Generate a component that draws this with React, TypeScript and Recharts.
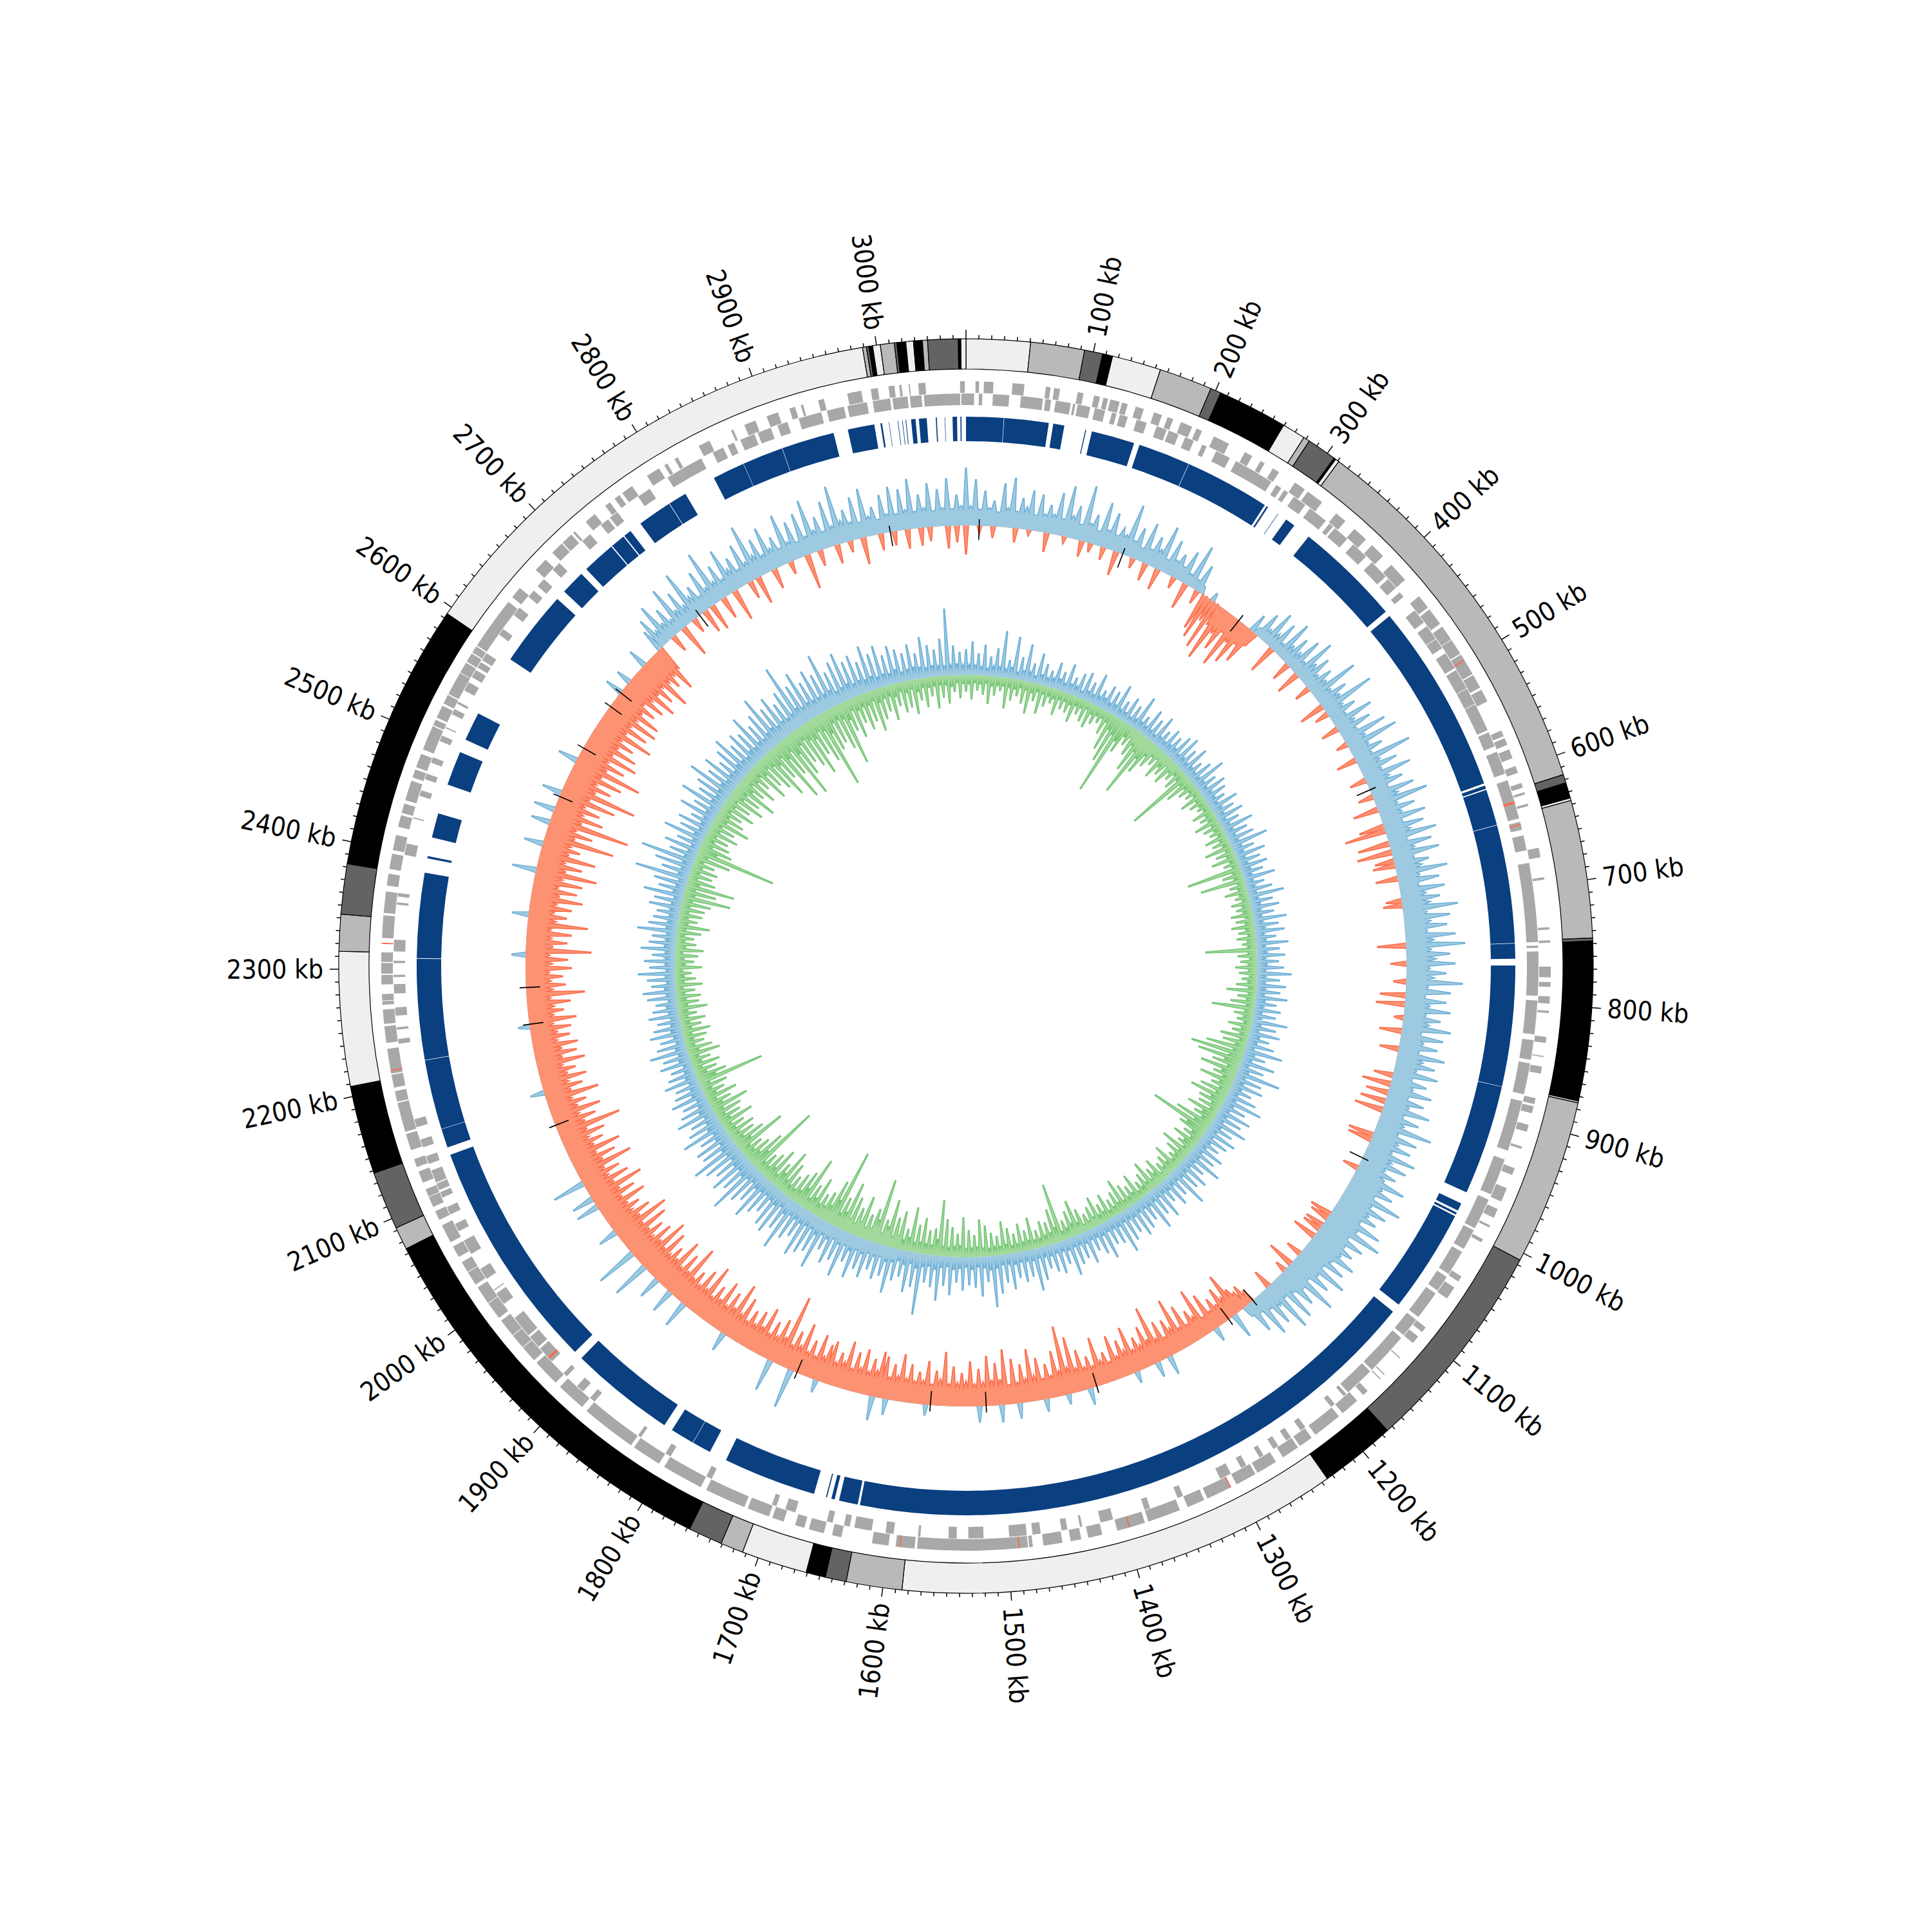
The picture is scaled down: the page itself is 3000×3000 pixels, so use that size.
import { Pie, PieChart, PolarAngleAxis, PolarRadiusAxis, Radar, RadarChart } from "recharts";

const SIZE = 3000;
const CENTER = 1500;
const GENOME_KB = 3070;
const BIN_KB = 5;
const BAND_KB = 50;

// contig ring: end position (kb) and shade of each contig
const contigEnds = [50.5, 93, 107.4, 115.3, 154, 196, 204.4, 259.5, 278, 283, 306.4, 308, 311, 616, 622.7, 635, 637, 745.6, 748, 873.6, 875, 1006, 1175, 1235, 1585, 1629, 1645.6, 1661, 1713, 1731, 1758, 2074, 2092, 2138, 2208, 2314, 2343, 2382.6, 2594, 2989, 2992, 2994, 2997, 3003, 3014, 3016, 3023, 3029, 3036, 3040, 3064, 3066, 3070];
const contigShades = ["#efefef", "#b9b9b9", "#636363", "#000000", "#efefef", "#b9b9b9", "#636363", "#000000", "#efefef", "#b9b9b9", "#636363", "#000000", "#efefef", "#b9b9b9", "#636363", "#000000", "#efefef", "#b9b9b9", "#636363", "#000000", "#efefef", "#b9b9b9", "#636363", "#000000", "#efefef", "#b9b9b9", "#636363", "#000000", "#efefef", "#b9b9b9", "#636363", "#000000", "#b9b9b9", "#636363", "#000000", "#efefef", "#b9b9b9", "#636363", "#000000", "#efefef", "#b9b9b9", "#636363", "#000000", "#efefef", "#b9b9b9", "#636363", "#000000", "#efefef", "#000000", "#b9b9b9", "#636363", "#000000", "#efefef"];

const genesOuter = [[8,11],[15,23],[39,49],[67,71],[74,79],[94,99],[108,113],[116,120],[122,130],[132,137],[144,151],[160,167],[172,177],[184,194],[198,203],[214,228],[243,250],[258,262],[270,276],[292,302],[305,320],[335,345],[355,368],[375,388],[398,415],[433,445],[447,462],[465,478],[478.5,492],[493,512],[513,525],[527,538],[565,570],[572,578],[582,590],[597,603],[612,616],[620,622],[630,632],[668,676],[693,695],[735,737],[746,748],[768,777],[781,785],[793,799],[805,807],[827,832],[843,844],[852,858],[879,884],[886,892],[902,908],[921,923],[940,946],[958,970],[977,985],[992,994],[1005,1008],[1041,1046],[1052,1063],[1093,1098],[1103,1110],[1126,1127],[1145,1146],[1150,1151],[1165,1170],[1177,1193],[1197,1222],[1226,1238],[1240,1255],[1262,1280],[1282,1300],[1305,1327],[1330,1345],[1352,1380],[1383,1407],[1420,1432],[1438,1447],[1454,1470],[1479,1482],[1483,1576],[1578,1594],[1600,1614],[1640,1648],[1655,1668],[1672,1680],[1690,1700],[1703,1722],[1725,1760],[1765,1800],[1805,1830],[1833,1880],[1885,1910],[1915,1938],[1941,1955],[1955.5,1968],[1968.5,1984],[1987,2002],[2002.5,2018],[2021,2033],[2033.5,2043],[2048,2058],[2062,2078],[2083,2091],[2095,2104],[2104.5,2111],[2117,2127],[2131,2138],[2146,2160],[2162,2187],[2188,2197],[2200,2211],[2212,2233],[2238,2252],[2254,2266],[2270,2273],[2273.5,2279],[2287,2295],[2296,2305],[2306,2314],[2326,2345],[2347,2365],[2370,2380],[2384,2397],[2400,2413],[2420,2430],[2432,2440],[2443,2460],[2463,2470],[2472,2484],[2488,2509],[2510,2515],[2517,2528],[2530,2538],[2539,2559],[2559.5,2569],[2570,2578],[2579,2585],[2586,2631],[2636,2646],[2666,2678],[2686,2697],[2698,2708],[2710,2712],[2724,2734],[2745,2750],[2755,2760],[2763,2773],[2788,2800],[2805,2808],[2815,2818],[2838,2848],[2868,2870],[2880,2890],[2900,2910],[2920,2925],[2930,2932],[2945,2950],[2970,2982],[2990,2996],[3005,3010],[3014,3016],[3022,3023],[3030,3036],[3065,3069]];
const genesInner = [[0,7],[11,14],[23,37],[47,66],[68,73],[77,90],[92,94],[96,107],[111,120],[126,130],[133,140],[148,157],[166,175],[177,186],[192,200],[208,212],[221,234],[240,275],[280,285],[288,292],[298,310],[315,332],[336,340],[342,356],[363,378],[385,402],[405,415],[420,425],[440,453],[457,470],[470.5,480],[485,500],[502,520],[520.5,535],[535.5,560],[562,575],[580,600],[606,640],[643,650],[655,668],[679,747],[750,752],[755,793],[797,826],[831,848],[851,878],[884,928],[936,968],[973,1000],[1002,1020],[1023,1045],[1048,1062],[1065,1090],[1093,1110],[1113,1150],[1152,1178],[1180,1183],[1193,1197],[1225,1230],[1240,1245],[1253,1258],[1268,1272],[1285,1290],[1300,1310],[1345,1350],[1375,1380],[1408,1419],[1435,1437],[1448,1453],[1471,1478],[1483,1498],[1520,1533],[1543,1550],[1574,1576],[1597,1604],[1616,1631],[1635,1640],[1650,1655],[1683,1692],[1700,1704],[1760,1765],[1800,1805],[1830,1833],[1880,1885],[1893,1900],[1912,1916],[1930,1945],[1947,1958],[1960,1979],[1994,2005],[2008,2009],[2020,2030],[2045,2058],[2067,2074],[2083,2090],[2099,2104],[2106,2112],[2113,2124],[2130,2137],[2145,2152],[2163,2170],[2236,2240],[2248,2250],[2260,2267],[2279,2287],[2293,2295],[2305,2307],[2315,2325],[2355,2357],[2362,2365],[2398,2408],[2430,2431],[2450,2455],[2465,2470],[2480,2485],[2500,2505],[2512,2513],[2525,2530],[2535,2537],[2548,2556],[2561,2568],[2570.5,2576],[2578,2585],[2604,2610],[2625,2633],[2645,2652],[2657,2665],[2676,2684],[2711,2720],[2732,2740],[2742,2750],[2772,2784],[2802,2835],[2846,2856],[2860,2866],[2872,2885],[2888,2900],[2906,2915],[2925,2945],[2950,2965],[2968,2985],[2990,3005],[3007,3020],[3022,3032],[3034,3065],[3066,3070]];
const rnaOuter = [[498,499],[1305,1306],[1396,1397],[1490,1491],[1590,1591],[2214,2215],[2321,2322]];
const rnaInner = [[625,627],[645,646],[1933,1935]];

const blastHits = [[0,33.7],[34.1,74],[78,88],[107,107.8],[113,152],[157,203.8],[204.2,281],[283,284.5],[295,295.4],[304,313],[329,425],[430,602],[604,607],[608,640.5],[641,747],[747.4,761],[767,875.6],[876,975],[986,993],[995,997],[998.5,1092],[1100,1630],[1632,1649],[1653,1656],[1660,1661],[1672,1756],[1772,1789],[1789.4,1811],[1819,1914],[1922,2131],[2138,2155],[2155.4,2218],[2218.4,2309],[2309.5,2386],[2399,2401],[2418,2440],[2467,2498],[2510,2536],[2592,2660],[2669,2691],[2697,2727],[2728,2741],[2742,2749],[2760,2791],[2791.5,2808],[2837,2866],[2866.3,2903],[2903.4,2951],[2964,2988],[2993.5,2995],[3001,3001.4],[3009,3009.5],[3013,3013.5],[3016,3016.6],[3021,3025],[3028,3035],[3043,3044],[3051,3051.4],[3058,3062],[3065,3066]];
const gcMarks = [14,177,326,566,987,1188,1222,1387,1512,1574,1727,2121,2237,2278,2495,2555,2610,2629,2752,2985];

// GC content deviation, one peak per 5 kb, a line is 100 kb
const gcAbove = [
  90,30,72,25,55,28,40,22,68,30,78,26,48,34,62,24,58,28,44,30,
  66,26,80,34,52,24,88,30,46,22,70,28,58,24,38,30,82,26,50,20,
  64,24,48,30,72,20,56,26,40,22,52,18,70,16,45,12,0,0,14,0,
  0,0,0,0,0,0,0,0,0,30,12,44,20,58,24,50,18,64,28,48,
  26,58,22,70,34,52,24,44,30,78,26,50,34,86,28,46,24,66,30,54,
  26,72,32,83,30,50,28,90,34,60,30,76,36,56,28,68,38,84,32,58,
  34,70,30,62,38,78,28,66,36,74,32,54,40,80,34,64,30,70,38,60,
  42,86,36,72,40,66,34,78,42,92,38,68,44,76,36,62,42,88,34,70,
  30,64,38,72,34,58,40,76,30,66,36,60,32,74,40,62,34,70,30,56,
  36,68,32,60,38,74,34,62,40,88,36,70,42,66,38,80,44,72,40,62,
  46,84,50,72,44,94,48,78,52,70,46,86,50,96,44,76,48,68,52,82,
  46,74,40,88,44,70,36,92,40,66,34,78,30,84,34,62,28,70,22,52,
  18,0,0,40,0,0,0,0,22,0,0,0,0,0,0,0,0,0,0,0,
  30,0,0,24,0,0,0,0,18,0,0,0,0,0,0,0,0,0,0,26,
  0,0,0,0,16,0,0,0,0,20,0,0,0,0,0,24,0,0,0,27,
  0,0,0,0,25,0,0,0,0,0,0,0,0,0,0,0,17,0,0,0,
  0,0,0,0,0,25,0,0,38,0,0,0,0,0,0,0,0,0,0,0,
  0,20,0,0,0,0,0,62,0,0,0,0,50,0,0,0,0,0,0,0,
  0,0,0,0,30,0,0,0,0,0,0,0,0,0,0,42,0,0,0,38,
  0,0,0,35,0,0,0,59,0,0,0,65,0,0,0,0,0,30,0,0,
  0,0,0,0,36,0,35,0,0,0,51,0,0,0,0,0,0,0,0,0,
  0,0,0,0,0,0,0,0,0,0,0,0,22,0,0,0,0,0,0,0,
  0,0,0,0,0,0,0,18,0,0,0,0,0,0,0,0,0,0,0,0,
  0,0,0,22,0,0,0,0,0,0,0,0,26,0,0,0,0,0,0,0,
  0,0,38,0,0,0,0,0,30,0,0,0,0,30,0,0,33,0,0,0,
  31,0,0,0,0,0,0,0,31,0,0,0,0,0,0,0,0,0,0,0,
  0,0,0,0,0,0,28,0,0,24,0,0,0,0,30,0,0,0,0,36,
  52,24,66,28,48,22,74,30,56,26,80,32,46,24,62,28,86,30,54,26,
  72,34,50,26,64,30,88,34,58,28,70,32,48,26,78,30,60,24,68,28,
  84,32,52,26,72,30,92,34,50,28,66,24,76,30,44,22,60,28,70,26,
  64,30,78,26,52,30,68,24,58,28,74,26,48,30
];
const gcBelow = [
  45,0,0,12,0,0,18,0,0,0,0,22,0,0,8,0,0,0,30,0,
  0,0,10,0,0,0,25,0,14,0,0,20,0,0,38,0,0,0,16,0,
  0,28,0,0,34,0,0,0,18,0,0,42,0,0,22,0,58,70,36,80,
  34,92,40,66,30,86,38,72,32,60,24,0,0,0,0,45,0,0,0,0,
  30,0,0,38,0,0,0,25,0,0,0,0,40,0,22,0,0,0,28,0,
  0,0,18,0,0,0,32,0,0,0,0,26,0,0,0,24,0,0,40,0,
  0,0,40,65,0,0,50,0,55,0,30,35,0,0,35,0,0,0,0,25,
  30,0,0,0,0,0,0,0,0,45,0,0,0,25,0,0,0,20,0,0,
  40,0,45,0,0,15,0,0,35,0,0,0,30,0,0,0,0,0,30,0,
  45,0,35,0,40,0,45,0,0,0,0,0,40,38,0,0,0,0,0,0,
  25,0,0,0,0,0,0,0,0,0,0,0,35,30,0,30,30,0,38,0,
  0,0,0,25,0,0,42,0,18,0,0,0,0,30,0,0,0,0,22,35,
  28,40,70,34,55,30,46,28,62,26,78,35,50,30,66,32,84,38,56,30,
  60,34,90,40,64,36,52,34,74,38,58,34,70,30,48,36,76,32,50,34,
  64,36,88,40,108,38,72,34,54,32,66,38,82,36,60,32,70,30,86,40,
  66,40,78,36,58,34,70,38,52,36,62,34,84,40,54,32,68,36,50,34,
  60,36,74,38,56,34,66,72,40,58,36,70,38,62,34,76,40,54,36,68,
  60,38,72,34,58,36,80,40,62,36,114,44,70,38,60,36,76,42,64,38,
  58,36,72,40,88,44,66,38,76,42,60,36,86,40,70,38,58,42,92,44,
  70,40,84,46,62,42,78,44,89,48,72,42,66,46,82,44,92,48,70,42,
  60,44,78,42,68,46,88,44,72,40,64,42,91,46,70,42,84,44,62,40,
  70,44,101,46,66,40,78,44,60,38,84,42,62,40,72,44,58,38,76,42,
  66,44,70,38,60,42,64,36,74,38,56,40,68,36,91,40,62,38,58,36,
  72,40,66,36,102,42,64,38,70,36,94,42,60,38,66,40,81,44,70,38,
  76,42,96,46,70,40,88,44,60,42,110,46,72,42,126,48,80,44,70,42,
  90,46,118,50,72,44,84,48,109,50,76,44,90,46,82,48,70,44,94,46,
  78,44,86,46,82,48,66,40,72,46,84,48,70,44,88,46,62,44,76,40,
  0,0,0,28,0,0,52,0,0,24,0,0,38,0,42,0,0,35,0,0,
  50,0,0,0,28,0,44,0,0,0,32,0,0,0,20,0,0,0,55,0,
  0,25,0,0,0,30,0,0,18,0,0,42,0,0,0,26,0,0,22,0,
  0,30,0,0,28,0,22,0,0,0,35,0,26,0
];
// GC skew, same bins
const skewAbove = [
  40,14,52,16,34,12,48,10,30,14,44,16,72,12,28,18,66,10,36,16,
  58,14,30,10,48,16,34,12,26,14,42,18,30,12,46,16,28,14,38,10,
  44,16,32,12,50,14,28,18,40,12,36,16,52,12,30,14,42,10,34,12,
  56,16,28,12,46,14,36,10,48,16,30,12,40,14,34,18,44,12,50,14,
  36,12,48,16,30,14,40,12,56,16,34,12,44,14,38,16,30,12,46,14,
  34,12,44,10,32,14,50,12,36,14,42,12,60,16,34,12,48,14,36,12,
  44,16,34,12,50,14,30,12,40,14,56,12,36,16,44,12,34,14,52,12,
  38,14,46,12,32,16,50,12,36,14,44,12,34,16,42,14,54,12,36,14,
  46,12,38,14,50,16,34,12,42,14,36,12,56,16,40,14,48,18,34,16,
  44,14,60,18,36,16,54,14,40,18,70,16,44,14,50,18,36,16,48,14,
  62,18,40,16,54,14,44,16,58,18,40,14,52,16,44,18,36,14,50,16,
  42,18,60,14,38,16,52,14,44,18,66,16,40,14,50,18,36,14,56,16,
  44,14,62,18,40,16,48,14,54,18,42,14,50,16,64,18,44,14,40,16,
  58,18,46,14,36,16,52,18,40,14,46,16,60,18,38,14,50,16,44,18,
  36,14,52,16,66,18,42,14,48,16,40,18,56,14,44,16,60,20,80,22,
  40,18,62,16,48,20,44,16,52,18,40,20,60,16,46,18,70,22,50,18,
  44,20,96,24,54,18,64,22,42,18,50,20,72,22,48,18,56,20,44,18,
  60,22,50,20,68,24,46,20,74,22,52,18,62,22,44,20,80,24,58,20,
  66,22,76,24,50,20,60,22,84,26,56,20,70,24,64,22,48,20,58,22,
  74,24,52,20,62,22,88,26,58,22,70,24,54,20,66,22,80,24,56,20,
  60,22,46,20,70,24,54,20,44,18,62,22,50,18,42,16,56,20,46,18,
  40,16,54,18,44,16,36,14,50,18,42,16,60,18,46,14,38,16,52,18,
  44,16,36,14,48,16,40,18,34,14,46,16,52,18,38,14,44,16,58,14,
  40,16,48,14,36,16,54,18,42,14,38,16,62,18,46,14,40,16,36,14,
  50,16,44,14,63,18,42,16,52,14,85,18,46,16,60,14,86,18,44,16,
  56,14,40,16,66,18,44,14,52,16,36,14,60,18,42,16,70,20,46,18,
  56,20,76,22,50,18,64,20,44,18,58,22,70,20,48,18,60,22,52,20,
  74,22,50,20,62,24,84,26,58,22,70,24,52,20,66,24,103,28,64,24,
  80,26,58,22,72,24,60,22,88,26,54,20,66,22,76,24,58,20,64,22,
  50,20,72,22,56,18,66,20,48,18,60,22,52,16,44,18,56,20,40,18,
  64,16,50,18,42,14,58,16,104,14,46,18,36,14,50,16
];
const skewBelow = [
  26,12,38,10,24,14,30,10,44,16,30,12,22,14,48,12,34,16,26,10,
  36,14,50,16,28,10,46,14,32,12,24,16,40,12,28,14,30,16,42,12,
  26,14,34,10,40,16,30,12,24,14,38,16,60,24,76,28,125,34,50,20,
  32,14,44,22,66,30,103,36,58,22,40,16,30,14,46,20,34,12,42,16,
  28,12,36,14,107,18,46,14,30,12,24,10,38,14,28,12,20,10,34,14,
  26,12,40,14,30,12,24,10,36,14,28,10,44,12,30,14,40,10,24,12,
  86,14,32,12,70,10,26,14,36,12,22,10,30,14,24,12,34,10,28,14,
  36,12,26,10,30,14,22,12,80,14,30,10,26,12,34,14,28,10,24,12,
  32,10,46,12,28,14,38,10,66,14,30,12,24,10,36,14,28,12,44,10,
  38,14,62,18,84,22,70,26,44,18,60,24,36,16,54,20,32,14,46,18,
  58,22,40,16,36,14,50,22,34,18,60,26,97,34,44,18,30,14,42,20,
  28,12,50,16,36,14,24,12,44,18,32,14,26,10,40,16,30,12,48,14,
  34,12,26,10,44,16,30,12,38,14,52,16,36,14,28,10,42,16,30,12,
  46,14,34,12,26,10,38,16,56,18,42,14,30,12,92,24,54,18,36,14,
  40,12,28,14,50,16,32,12,44,14,30,10,40,16,52,14,30,12,36,10,
  48,14,58,16,34,12,42,14,62,18,36,14,46,12,58,16,87,26,42,16,
  38,14,56,18,44,16,70,22,34,14,60,20,48,16,74,28,40,16,102,36,
  52,18,40,16,66,22,44,16,58,20,78,28,50,20,123,40,70,26,46,18,
  38,16,60,24,44,18,84,30,56,20,46,16,36,14,52,20,68,26,40,16,
  58,22,44,16,36,14,116,32,62,22,44,18,36,14,82,26,52,18,40,14,
  46,16,34,14,54,18,38,14,44,16,60,20,36,14,50,18,34,12,42,16,
  105,30,48,18,36,14,44,16,32,12,50,18,40,14,30,12,36,14,44,16,
  32,12,40,14,28,12,46,16,34,12,38,14,30,10,42,14,32,12,26,10,
  42,14,30,12,36,10,44,16,32,12,28,10,38,14,50,16,30,12,36,14,
  38,14,46,16,75,18,50,16,77,20,44,14,36,12,42,16,34,12,56,18,
  126,30,52,18,44,14,38,16,50,18,40,14,60,20,46,16,38,14,54,18,
  42,14,60,22,48,18,70,26,44,16,58,22,40,16,66,24,50,18,62,22,
  82,28,56,20,100,30,62,22,105,34,74,24,58,20,70,26,88,30,60,22,
  76,26,122,36,66,22,58,18,72,24,100,30,50,18,64,22,44,16,58,20,
  48,16,66,22,50,18,40,14,56,20,36,14,48,18,42,14,54,20,34,12,
  46,16,30,12,50,14,34,12,44,18,26,10,36,14,58,16
];

// floor of the filled band between the peaks, one value per 50 kb
const gcAboveBand = [24,24,26,24,22,14,0,12,16,20,24,26,28,28,30,30,30,30,32,34,44,46,40,26,0,0,0,0,0,0,0,0,0,0,0,0,0,0,0,0,0,0,0,0,0,0,0,0,0,0,0,0,0,0,14,20,22,24,24,24,24,24];
const gcBelowBand = [0,0,0,0,0,0,30,0,0,0,0,0,0,0,0,0,0,0,0,0,0,0,0,10,24,26,26,26,28,26,26,28,28,28,28,28,28,28,30,30,28,28,28,28,28,28,28,30,30,32,32,32,34,34,8,0,0,0,0,0,0,0];
const skewAboveBand = [5,5,5,6,5,4,4,5,4,5,4,4,3,4,5,4,3,4,4,5,5,6,5,5,6,5,6,6,6,5,6,6,8,16,18,16,12,8,8,6,6,5,4,4,4,4,5,5,4,5,4,5,5,5,10,14,14,10,6,5,5,5];
const skewBelowBand = [4,4,4,5,5,4,18,12,6,4,4,3,4,4,5,5,3,4,6,8,5,4,6,8,4,4,10,6,4,4,5,6,6,22,22,14,8,6,6,6,4,4,4,4,4,4,6,4,4,5,6,8,10,8,8,10,10,8,6,5,4,4];

const GC_BASE = 684;
const SKEW_BASE = 452;
const kbTicks = Array.from({ length: 307 }, (_, i) => i * 10);

// peaks on the 5 kb bins, band floor
const withFloor = (peaks: number[], band: number[]) => {
  const out: number[] = [];
  peaks.forEach((p, i) => {
    const next = peaks[i + 1] ?? peaks[0];
    const floor = band[Math.floor((i * BIN_KB) / BAND_KB)] ?? 0;
    out.push(p, Math.min(floor, p, next));
  });
  return out;
};

const gcUp = withFloor(gcAbove, gcAboveBand);
const gcDown = withFloor(gcBelow, gcBelowBand);
const skewUp = withFloor(skewAbove, skewAboveBand);
const skewDown = withFloor(skewBelow, skewBelowBand);

// outlines are painted under the fills, empty bins sit just behind the opposite band
const outline = (v: number, base: number, sign: number) => (v > 0 ? base + sign * v : base - sign * 1.5);

const rows = gcUp.map((_, i) => ({
  kb: (i * BIN_KB) / 2,
  gcUp: [GC_BASE, GC_BASE + gcUp[i]],
  gcDown: [GC_BASE, GC_BASE - gcDown[i]],
  skewUp: [SKEW_BASE, SKEW_BASE + skewUp[i]],
  skewDown: [SKEW_BASE, SKEW_BASE - skewDown[i]],
  gcUpLine: outline(gcUp[i], GC_BASE, 1),
  gcDownLine: outline(gcDown[i], GC_BASE, -1),
  skewUpLine: outline(skewUp[i], SKEW_BASE, 1),
  skewDownLine: outline(skewDown[i], SKEW_BASE, -1),
}));
rows.push({ ...rows[0], kb: GENOME_KB });

const contigs = contigEnds.map((end, i) => ({
  value: end - (i ? contigEnds[i - 1] : 0),
  fill: contigShades[i],
}));

// on/off wedges for one ring, the gaps stay empty
const wedges = (spans: number[][], fill: string) => {
  const out: { value: number; fill: string }[] = [];
  let pos = 0;
  spans.forEach(([start, end]) => {
    if (start > pos) out.push({ value: start - pos, fill: "none" });
    out.push({ value: end - start, fill });
    pos = end;
  });
  if (pos < GENOME_KB) out.push({ value: GENOME_KB - pos, fill: "none" });
  return out;
};

const chartStyle = { position: "absolute", left: 0, top: 0 } as const;
const noMargin = { top: 0, right: 0, bottom: 0, left: 0 };
const pieProps = {
  cx: CENTER,
  cy: CENTER,
  dataKey: "value",
  startAngle: 90,
  endAngle: -270,
  stroke: "none",
  isAnimationActive: false,
};

function KbTick({ x, y, payload }: any) {
  const kb = payload.value;
  const dx = x - CENTER;
  const dy = y - CENTER;
  const len = Math.hypot(dx, dy) || 1;
  const ux = dx / len;
  const uy = dy / len;
  const major = kb % 100 === 0;
  const deg = (Math.atan2(uy, ux) * 180) / Math.PI;
  const flip = ux < 0;
  const tx = CENTER + ux * 998;
  const ty = CENTER + uy * 998;
  return (
    <g>
      <line
        x1={CENTER + ux * 974}
        y1={CENTER + uy * 974}
        x2={CENTER + ux * (major ? 988 : 980)}
        y2={CENTER + uy * (major ? 988 : 980)}
        stroke="#000"
        strokeWidth={1.5}
      />
      {major && kb > 0 ? (
        <text
          x={tx}
          y={ty}
          fill="#000"
          fontFamily="'DejaVu Sans Condensed', 'DejaVu Sans'"
          fontStretch="condensed"
          fontSize={41}
          dominantBaseline="central"
          textAnchor={flip ? "end" : "start"}
          transform={`rotate(${flip ? deg + 180 : deg} ${tx} ${ty})`}
        >
          {kb} kb
        </text>
      ) : null}
    </g>
  );
}

export default function App() {
  return (
    <div style={{ position: "absolute", left: 0, top: 0, width: SIZE, height: SIZE, background: "#fff" }}>
      <PieChart width={SIZE} height={SIZE} style={chartStyle} margin={noMargin}>
        <Pie {...pieProps} data={contigs} innerRadius={927} outerRadius={974} stroke="#000" strokeWidth={1.2} />
        <Pie {...pieProps} data={wedges(genesOuter, "#a8a8a8")} innerRadius={890} outerRadius={908} />
        <Pie {...pieProps} data={wedges(genesInner, "#a8a8a8")} innerRadius={871} outerRadius={889} />
        <Pie {...pieProps} data={wedges(rnaOuter, "#fb6a4a")} innerRadius={890} outerRadius={908} />
        <Pie {...pieProps} data={wedges(rnaInner, "#fb6a4a")} innerRadius={871} outerRadius={889} />
        <Pie {...pieProps} data={wedges(blastHits, "#0a3f80")} innerRadius={815} outerRadius={853} />
      </PieChart>
      <RadarChart width={SIZE} height={SIZE} data={rows} cx={CENTER} cy={CENTER} outerRadius={1000} startAngle={90} endAngle={-270} style={chartStyle} margin={noMargin}>
        <PolarAngleAxis dataKey="kb" type="number" domain={[0, GENOME_KB]} ticks={kbTicks} tick={(p: any) => <KbTick {...p} />} tickLine={false} axisLine={false} />
        <PolarRadiusAxis hide type="number" domain={[0, 1000]} tick={false} axisLine={false} />
        <Radar dataKey="gcUpLine" fill="none" stroke="#6baed6" strokeWidth={3} dot={false} isAnimationActive={false} />
        <Radar dataKey="gcDownLine" fill="none" stroke="#fb6a4a" strokeWidth={3} dot={false} isAnimationActive={false} />
        <Radar dataKey="gcUp" fill="#9ecae1" fillOpacity={1} stroke="none" dot={false} isAnimationActive={false} />
        <Radar dataKey="gcDown" fill="#fc9272" fillOpacity={1} stroke="none" dot={false} isAnimationActive={false} />
        <Radar dataKey="skewUpLine" fill="none" stroke="#6baed6" strokeWidth={3} dot={false} isAnimationActive={false} />
        <Radar dataKey="skewDownLine" fill="none" stroke="#74c476" strokeWidth={3} dot={false} isAnimationActive={false} />
        <Radar dataKey="skewUp" fill="#9ecae1" fillOpacity={1} stroke="none" dot={false} isAnimationActive={false} />
        <Radar dataKey="skewDown" fill="#a1d99b" fillOpacity={1} stroke="none" dot={false} isAnimationActive={false} />
      </RadarChart>
      <PieChart width={SIZE} height={SIZE} style={chartStyle} margin={noMargin}>
        <Pie {...pieProps} data={wedges(gcMarks.map((kb) => [kb, kb + 1.2]), "#000")} innerRadius={662} outerRadius={694} />
      </PieChart>
    </div>
  );
}
